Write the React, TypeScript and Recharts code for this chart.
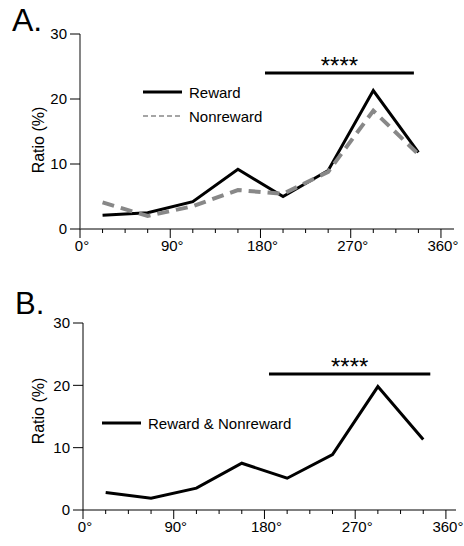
import React from "react"
import { LineChart, Line, XAxis, YAxis, Legend, ReferenceLine } from "recharts"

const FONT = "'Liberation Sans', Arial, sans-serif"

// angle bin centres (deg)
const angles = [22.5, 67.5, 112.5, 157.5, 202.5, 247.5, 292.5, 337.5]
const rewardA = [2.1, 2.5, 4.2, 9.2, 5.0, 9.0, 21.3, 11.8]
const nonrewardA = [4.1, 2.0, 3.5, 6.0, 5.4, 8.8, 18.2, 11.5]
const combinedB = [2.8, 1.9, 3.5, 7.5, 5.1, 8.9, 19.8, 11.3]

const xTicks = [0, 22.5, 45, 67.5, 90, 112.5, 135, 157.5, 180, 202.5, 225, 247.5, 270, 292.5, 315, 337.5, 360]
const yTicks = [0, 10, 20, 30]

const dataA = angles.map((a, i) => ({ angle: a, reward: rewardA[i], nonreward: nonrewardA[i] }))
const dataB = angles.map((a, i) => ({ angle: a, both: combinedB[i] }))

function AngleTick(props: any) {
  const { x, y, payload } = props
  const major = payload.value % 90 === 0
  return (
    <g>
      <line x1={x} x2={x} y1={y} y2={y + (major ? 9 : 4)} stroke="#000" strokeWidth={1} />
      {major && (
        <text x={x + 2} y={y + 22} textAnchor="middle" fontSize={15} fontFamily={FONT} fill="#000">
          {`${payload.value}°`}
        </text>
      )}
    </g>
  )
}

function ratioLabel(cx: number, cy: number) {
  return () => (
    <text
      x={cx}
      y={cy}
      transform={`rotate(-90, ${cx}, ${cy})`}
      textAnchor="middle"
      dominantBaseline="central"
      fontSize={16}
      fontFamily={FONT}
      fill="#000"
    >
      Ratio (%)
    </text>
  )
}

function LegendBox({ payload }: any) {
  const items = [...(payload || [])].sort(
    (a: any, b: any) => (a.payload?.strokeDasharray ? 1 : 0) - (b.payload?.strokeDasharray ? 1 : 0)
  )
  return (
    <div style={{ fontFamily: FONT, fontSize: 15, color: "#000" }}>
      {items.map((entry: any) => {
        const dashed = !!entry.payload?.strokeDasharray
        return (
          <div key={entry.value} style={{ display: "flex", alignItems: "center", height: 24 }}>
            <svg width={39} height={6}>
              <line
                x1={0}
                x2={39}
                y1={3}
                y2={3}
                stroke={entry.color}
                strokeWidth={dashed ? 1.5 : 3}
                strokeDasharray={dashed ? "5 3" : undefined}
              />
            </svg>
            <span style={{ marginLeft: 7 }}>{entry.value}</span>
          </div>
        )
      })}
    </div>
  )
}

const starLabel = { value: "****", position: "top" as const, offset: -1, fontSize: 24, fill: "#000", fontFamily: FONT }

export default function App() {
  return (
    <div style={{ position: "absolute", left: 0, top: 0, width: 464, height: 546, background: "#fff" }}>
      <div style={{ position: "absolute", left: 12, top: 4, fontFamily: FONT, fontSize: 32, lineHeight: "32px" }}>A.</div>
      <div style={{ position: "absolute", left: 15, top: 288, fontFamily: FONT, fontSize: 31, lineHeight: "31px" }}>B.</div>

      <div style={{ position: "absolute", left: 0, top: 0 }}>
        <LineChart width={464} height={273} data={dataA} margin={{ top: 34, right: 10, left: 0, bottom: 0 }}>
          <XAxis
            dataKey="angle"
            type="number"
            domain={[0, 373]}
            ticks={xTicks}
            interval={0}
            height={44}
            tickSize={0}
            tickMargin={0}
            tickLine={false}
            axisLine={{ stroke: "#000" }}
            tick={<AngleTick />}
          />
          <YAxis
            type="number"
            domain={[0, 30]}
            ticks={yTicks}
            interval={0}
            width={80}
            tickSize={10}
            tickMargin={3}
            axisLine={{ stroke: "#444", strokeWidth: 1.3 }}
            tickLine={{ stroke: "#000" }}
            tick={{ fontSize: 15, fill: "#000", fontFamily: FONT }}
            label={{ content: ratioLabel(38, 140) }}
          />
          <Legend
            layout="vertical"
            verticalAlign="middle"
            align="center"
            wrapperStyle={{ left: 143, top: 80, width: 160 }}
            content={<LegendBox />}
          />
          <ReferenceLine
            segment={[{ x: 184.5, y: 24 }, { x: 333, y: 24 }]}
            stroke="#000"
            strokeWidth={3}
            label={starLabel}
          />
          <Line
            type="linear"
            dataKey="reward"
            name="Reward"
            stroke="#000"
            strokeWidth={3}
            dot={false}
            isAnimationActive={false}
          />
          <Line
            type="linear"
            dataKey="nonreward"
            name="Nonreward"
            stroke="#888"
            strokeWidth={4}
            strokeDasharray="12 7"
            dot={false}
            isAnimationActive={false}
          />
        </LineChart>
      </div>

      <div style={{ position: "absolute", left: 0, top: 273 }}>
        <LineChart width={464} height={273} data={dataB} margin={{ top: 50, right: 8, left: 0, bottom: 0 }}>
          <XAxis
            dataKey="angle"
            type="number"
            domain={[0, 370]}
            ticks={xTicks}
            interval={0}
            height={36}
            tickSize={0}
            tickMargin={0}
            tickLine={false}
            axisLine={{ stroke: "#000" }}
            tick={<AngleTick />}
          />
          <YAxis
            type="number"
            domain={[0, 30]}
            ticks={yTicks}
            interval={0}
            width={83}
            tickSize={10}
            tickMargin={3}
            axisLine={{ stroke: "#000" }}
            tickLine={{ stroke: "#000" }}
            tick={{ fontSize: 15, fill: "#000", fontFamily: FONT }}
            label={{ content: ratioLabel(38, 138) }}
          />
          <Legend
            layout="vertical"
            verticalAlign="middle"
            align="center"
            wrapperStyle={{ left: 102, top: 138, width: 220 }}
            content={<LegendBox />}
          />
          <ReferenceLine
            segment={[{ x: 184.5, y: 21.8 }, { x: 344.5, y: 21.8 }]}
            stroke="#000"
            strokeWidth={3}
            label={starLabel}
          />
          <Line
            type="linear"
            dataKey="both"
            name="Reward & Nonreward"
            stroke="#000"
            strokeWidth={3}
            dot={false}
            isAnimationActive={false}
          />
        </LineChart>
      </div>
    </div>
  )
}
